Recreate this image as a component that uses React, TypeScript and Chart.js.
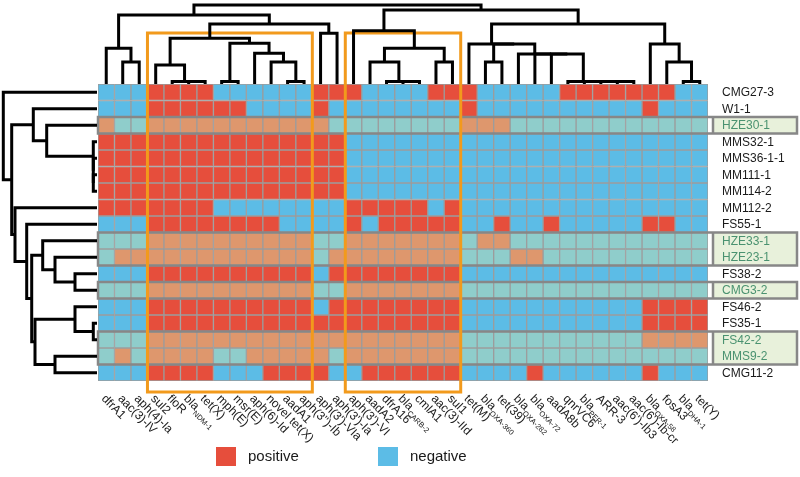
import React, { useEffect, useRef } from "react";
import { Chart, registerables } from "chart.js";

Chart.register(...registerables);

// ---- data ----
const COLUMNS: string[] = [
  "dfrA1", "aac(3)-IV", "aph(4)-Ia", "sul2", "floR", "bla_NDM-1", "tet(X)", "mph(E)", "msr(E)",
  "aph(6)-Id", "novel tet(X)", "aadA1", "aph(3'')-Ib", "aph(3')-VIa", "aph(3')-Ia", "aph(3')-VI",
  "aadA2", "dfrA16", "bla_CARB-2", "cmlA1", "aac(3)-IId", "sul1", "tet(M)", "bla_OXA-360", "tet(39)",
  "bla_OXA-282", "bla_OXA-72", "aadA8b", "qnrVC6", "bla_PER-1", "ARR-3", "aac(6')-Ib3", "aac(6')-Ib-cr",
  "bla_OXA-58", "fosA3", "bla_DHA-1", "tet(Y)",
];

const ROWS: string[] = [
  "CMG27-3", "W1-1", "HZE30-1", "MMS32-1", "MMS36-1-1", "MM111-1", "MM114-2", "MM112-2", "FS55-1",
  "HZE33-1", "HZE23-1", "FS38-2", "CMG3-2", "FS46-2", "FS35-1", "FS42-2", "MMS9-2", "CMG11-2",
];

// 1 = positive, 0 = negative (one string per row, one char per column)
const MATRIX: string[] = [
  "0001111000000111000011100000111111100",
  "0001111110000100000000100000000001000",
  "1001111111111100000000111000000000000",
  "1111111111111110000000000000000000000",
  "1111111111111110000000000000000000000",
  "1111111111111110000000000000000000000",
  "1111111111111110000000000000000000000",
  "1111111000000001111101000000000000000",
  "0001111111100001011111001001000001100",
  "0001111111111001111111011000000000000",
  "0111111111111011111111000110000000000",
  "0001111111111011111111000000000000000",
  "0001111111111001111111000000000000000",
  "0001111111111011111111000000000001111",
  "0001111111111111111111000000000001111",
  "0001111111111111111111000000000001111",
  "0101111001111101111111000000000000000",
  "0001111000111100111111000010000001000",
];

// highlighted row groups [firstRow, lastRow]
const HIGHLIGHT_GROUPS: number[][] = [[2, 2], [9, 10], [12, 12], [15, 16]];
// orange boxes over column ranges [firstCol, lastCol]
const COLUMN_BOXES: number[][] = [[3, 12], [15, 21]];

// column dendrogram: [childA, childB, height]; leaves 0..36, node k = 37 + index
const COL_TREE: number[][] = [
  [5, 6, 2.5], [4, 37, 2.5], [3, 38, 19], [7, 8, 2.5], [11, 12, 2.5], [10, 41, 22],
  [9, 42, 30.7], [40, 43, 40.7], [39, 44, 45.7], [13, 14, 50.7], [45, 46, 60],
  [1, 2, 22], [0, 48, 35.7], [49, 47, 69],
  [18, 19, 2.5], [17, 51, 2.5], [16, 52, 22], [20, 21, 22], [53, 54, 35.7], [15, 55, 53.3],
  [31, 32, 2.5], [30, 57, 2.5], [29, 58, 2.5], [28, 59, 2.5], [27, 60, 30], [26, 61, 30],
  [25, 62, 30], [23, 24, 22], [64, 63, 40], [22, 65, 40], [35, 36, 2.5], [34, 67, 22],
  [33, 68, 40], [66, 69, 60], [56, 70, 74], [50, 71, 79],
];

// row dendrogram: leaves 0..17, node k = 18 + index
const ROW_TREE: number[][] = [
  [5, 6, 3.7], [4, 18, 3.7], [3, 19, 3.7], [2, 20, 50.3], [1, 21, 63.7],
  [11, 12, 22], [10, 23, 42], [9, 24, 54.3], [14, 15, 3.7], [13, 26, 22],
  [16, 17, 42], [27, 28, 62], [25, 29, 65.3], [8, 30, 70.3], [7, 31, 82],
  [22, 32, 85.3], [0, 33, 93.7],
];

const LEGEND_ITEMS: string[] = ["positive", "negative"];

// ---- styles ----
const RED = "#E64E3C";
const BLUE = "#5CBCE6";
const RED_HL = "#DE976D";
const BLUE_HL = "#8FCDCB";
const GRID = "#9C9C9C";
const HL_BORDER = "#878787";
const HL_FILL = "#E8F1DB";
const HL_TEXT = "#4A9270";
const ORANGE = "#F29A1C";
const FONT = "'Liberation Sans', Arial, Helvetica, sans-serif";

function isHighlighted(r: number): boolean {
  return HIGHLIGHT_GROUPS.some(([a, b]) => r >= a && r <= b);
}

function drawTree(
  ctx: CanvasRenderingContext2D,
  tree: number[][],
  nLeaves: number,
  leafPos: (i: number) => number,
  toPoint: (pos: number, h: number) => [number, number]
) {
  const pos: number[] = [];
  const hgt: number[] = [];
  for (let i = 0; i < nLeaves; i++) {
    pos[i] = leafPos(i);
    hgt[i] = 0;
  }
  tree.forEach(([a, b, h], k) => {
    const id = nLeaves + k;
    pos[id] = (pos[a] + pos[b]) / 2;
    hgt[id] = h;
  });
  ctx.save();
  ctx.strokeStyle = "#000";
  ctx.lineWidth = 3;
  ctx.lineJoin = "miter";
  ctx.lineCap = "butt";
  tree.forEach(([a, b, h]) => {
    const p1 = toPoint(pos[a], hgt[a]);
    const p2 = toPoint(pos[a], h);
    const p3 = toPoint(pos[b], h);
    const p4 = toPoint(pos[b], hgt[b]);
    ctx.beginPath();
    ctx.moveTo(p1[0], p1[1]);
    ctx.lineTo(p2[0], p2[1]);
    ctx.lineTo(p3[0], p3[1]);
    ctx.lineTo(p4[0], p4[1]);
    ctx.stroke();
  });
  ctx.restore();
}

const decorPlugin = {
  id: "heatDecor",
  afterDatasetsDraw(chart: any) {
    const ctx: CanvasRenderingContext2D = chart.ctx;
    const xs = chart.scales.x;
    const ys = chart.scales.y;
    const area = chart.chartArea;
    const cw = xs.getPixelForValue(1) - xs.getPixelForValue(0);
    const colX = (i: number) => xs.getPixelForValue(i);
    const rowEdge = (r: number) => ys.getPixelForValue(r);
    const rowY = (r: number) => ys.getPixelForValue(r + 0.5);
    const boxLeft = area.right + 5;
    const boxRight = 797;

    // highlighted rows
    ctx.save();
    HIGHLIGHT_GROUPS.forEach(([a, b]) => {
      const top = rowEdge(a);
      const bot = rowEdge(b + 1);
      ctx.fillStyle = HL_FILL;
      ctx.fillRect(boxLeft, top, boxRight - boxLeft, bot - top);
      ctx.strokeStyle = HL_BORDER;
      ctx.lineWidth = 2.5;
      ctx.strokeRect(area.left, top, boxRight - area.left, bot - top);
      ctx.beginPath();
      ctx.moveTo(boxLeft, top);
      ctx.lineTo(boxLeft, bot);
      ctx.stroke();
    });
    ctx.restore();

    // row labels
    ctx.save();
    ctx.font = `12px ${FONT}`;
    ctx.textBaseline = "middle";
    ctx.textAlign = "left";
    ROWS.forEach((name, r) => {
      ctx.fillStyle = isHighlighted(r) ? HL_TEXT : "#1a1a1a";
      ctx.fillText(name, area.right + 14, rowY(r) + 0.5);
    });
    ctx.restore();

    // orange boxes
    ctx.save();
    ctx.strokeStyle = ORANGE;
    ctx.lineWidth = 3;
    COLUMN_BOXES.forEach(([a, b]) => {
      const x0 = colX(a) - cw / 2;
      const x1 = colX(b) + cw / 2;
      ctx.strokeRect(x0, 33, x1 - x0, 392 - 33);
    });
    ctx.restore();

    // dendrograms
    drawTree(ctx, COL_TREE, COLUMNS.length, colX, (p, h) => [p, area.top - h]);
    drawTree(ctx, ROW_TREE, ROWS.length, rowY, (p, h) => [area.left - 1 - h, p]);

    // column labels (rotated, with subscripts)
    ctx.save();
    ctx.fillStyle = "#1a1a1a";
    COLUMNS.forEach((label, i) => {
      const [main, sub] = label.split("_");
      ctx.save();
      ctx.translate(colX(i) - 3, 397);
      ctx.rotate(Math.PI / 4);
      ctx.textBaseline = "middle";
      ctx.textAlign = "left";
      ctx.font = `12px ${FONT}`;
      ctx.fillText(main, 0, 0);
      if (sub) {
        const w = ctx.measureText(main).width;
        ctx.font = `7.5px ${FONT}`;
        ctx.fillText(sub, w + 0.5, 5);
      }
      ctx.restore();
    });
    ctx.restore();

    // legend
    ctx.save();
    ctx.font = `15px ${FONT}`;
    ctx.textBaseline = "middle";
    ctx.textAlign = "left";
    const legendColors = [RED, BLUE];
    const legendX = [216, 378];
    LEGEND_ITEMS.forEach((txt, k) => {
      ctx.fillStyle = legendColors[k];
      ctx.fillRect(legendX[k], 447, 20, 19);
      ctx.fillStyle = "#1a1a1a";
      ctx.fillText(txt, legendX[k] + 32, 457);
    });
    ctx.restore();
  },
};

export default function App() {
  const ref = useRef<HTMLCanvasElement | null>(null);
  useEffect(() => {
    if (!ref.current) return;
    const datasets = ROWS.map((name, r) => ({
      label: name,
      data: COLUMNS.map(() => 1),
      backgroundColor: MATRIX[r].split("").map((v) =>
        v === "1" ? (isHighlighted(r) ? RED_HL : RED) : isHighlighted(r) ? BLUE_HL : BLUE
      ),
      borderColor: GRID,
      borderWidth: 1,
      borderSkipped: false as const,
      barPercentage: 1,
      categoryPercentage: 1,
    }));
    const chart = new Chart(ref.current, {
      type: "bar",
      data: { labels: COLUMNS, datasets },
      options: {
        responsive: false,
        devicePixelRatio: 1,
        animation: false,
        layout: { padding: { left: 98, right: 92, top: 84, bottom: 96 } },
        plugins: { legend: { display: false }, tooltip: { enabled: false } },
        scales: {
          x: { type: "category", stacked: true, display: false, offset: true },
          y: { type: "linear", stacked: true, min: 0, max: ROWS.length, reverse: true, display: false },
        },
      },
      plugins: [decorPlugin],
    });
    return () => chart.destroy();
  }, []);
  return (
    <div style={{ position: "fixed", left: 0, top: 0, width: 800, height: 477, background: "#fff" }}>
      <canvas ref={ref} width={800} height={477} style={{ display: "block" }} />
    </div>
  );
}
